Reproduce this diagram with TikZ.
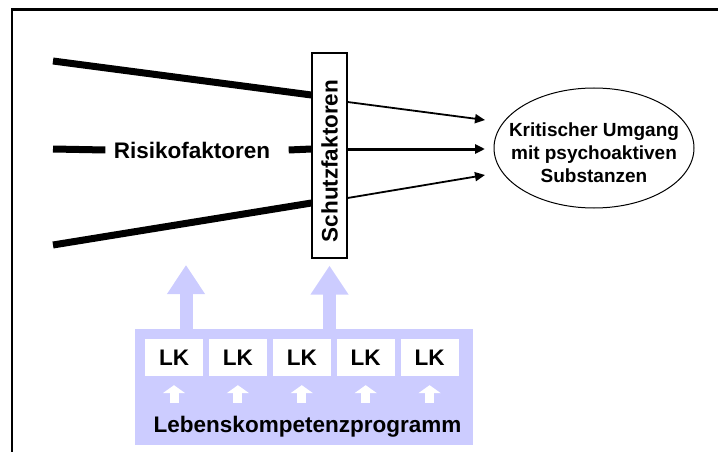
\documentclass[tikz,border=0pt]{standalone}
\usepackage{fontspec}
\setmainfont{Liberation Sans}
\usepackage{graphicx}
\usepackage{tikz}
\usetikzlibrary{positioning, shapes, arrows.meta}
\definecolor{flieder}{HTML}{CCCCFF}

\begin{document}
\begin{tikzpicture}[
  x=1pt, y=-1pt,
  riskline/.style={line width=7pt},
  effect/.style={-{Triangle[length=10pt,width=9pt]}, line width=1.8pt},
  lift/.style={-{Triangle[length=29pt,width=36pt]}, draw=flieder, line width=13pt},
  push/.style={-{Triangle[length=8pt,width=22pt]}, draw=white, line width=9pt},
  factor/.style={draw, line width=1.2pt, fill=white, minimum width=35pt,
                 minimum height=205pt, inner sep=0pt},
  goal/.style={draw, ellipse, line width=1pt, minimum width=200pt, minimum height=120pt,
               inner sep=0pt},
  goaltext/.style={align=center, inner sep=0pt, font=\bfseries\fontsize{19}{23}\selectfont},
  program/.style={fill=flieder, minimum width=338pt, minimum height=116pt},
  skill/.style={fill=white, minimum width=58pt, minimum height=37pt, inner sep=0pt},
  every node/.style={font=\bfseries\fontsize{22.5}{27}\selectfont}
]
  \useasboundingbox (0,0) rectangle (718,452);
  \draw[line width=2.5pt] (12,452) -- (12,9.5) -- (718,9.5);

  \node[factor] (schutz) at (329.5,155.5) {\rotatebox{90}{Schutzfaktoren\hspace{11pt}}};
  \node (risiko) at (192,150) {Risikofaktoren};
  \node[goal] (ziel) at (594,148) {};
  \node[goaltext] (zieltext) at ([yshift=-5pt]ziel.center)
    {Kritischer Umgang\\mit psychoaktiven\\Substanzen};

  \coordinate (riskA) at (53,61);
  \coordinate (riskB) at (53,149);
  \coordinate (riskC) at (53,245);
  \coordinate (tipA) at (485,120);
  \coordinate (tipB) at (485,149);
  \coordinate (tipC) at (485,175);

  \draw[riskline] (riskA) -- (schutz.west |- 0,95);
  \draw[riskline] (riskB) -- ([xshift=-5pt]risiko.west);
  \draw[riskline] ([xshift=15pt]risiko.east) -- (schutz.west |- riskB);
  \draw[riskline] (riskC) -- (schutz.west |- 0,203);

  \draw[effect] (schutz.east |- 0,102) -- (tipA);
  \draw[effect, line width=3pt] (schutz.east |- tipB) -- (tipB);
  \draw[effect] (schutz.east |- 0,198) -- (tipC);

  \node[program] (prog) at (304,387) {};
  \node[skill] (lk1) at (174,357.5) {LK};
  \foreach \i [count=\j from 2] in {1,...,4}
    \node[skill, right=5.5pt of lk\i] (lk\j) {LK};
  \foreach \i in {1,...,5}
    \draw[push] ([yshift=-27pt]lk\i.south) -- ([yshift=-9pt]lk\i.south);
  \node[anchor=base] (progname) at (307.5,432) {Lebenskompetenzprogramm};

  \coordinate (liftA) at (186,265);
  \draw[lift] (prog.north -| liftA) -- (liftA);
  \draw[lift] (prog.north -| schutz.south) -- ([yshift=-7pt]schutz.south);
\end{tikzpicture}
\end{document}
